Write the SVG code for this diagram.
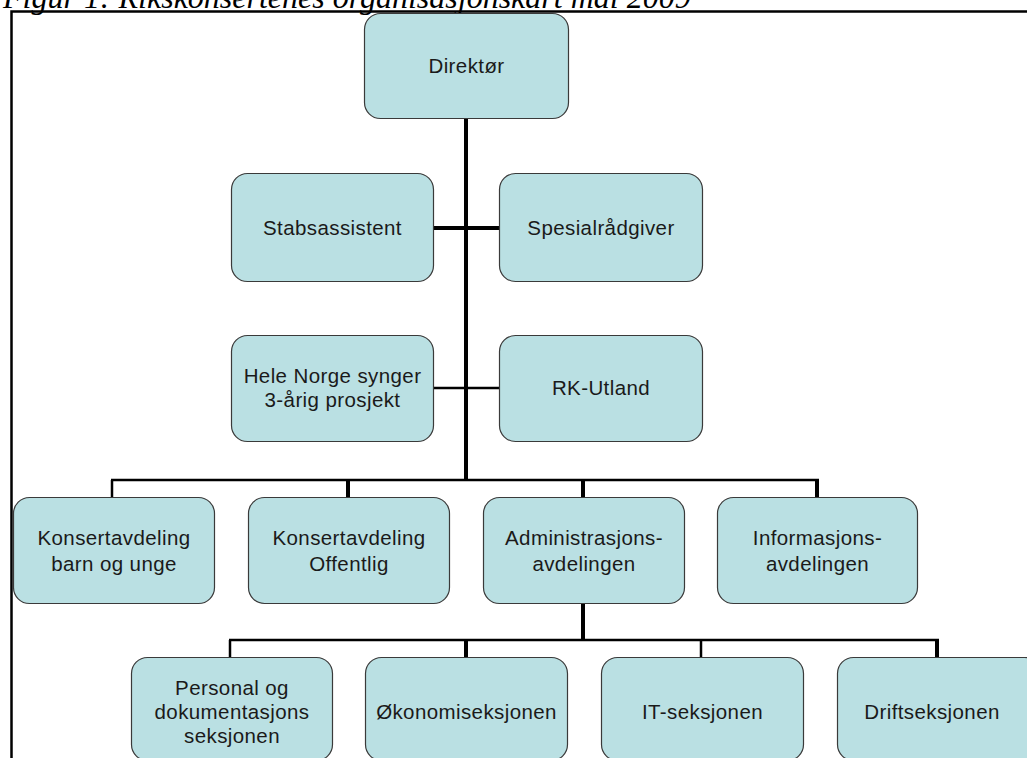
<svg xmlns="http://www.w3.org/2000/svg" width="1027" height="758" viewBox="0 0 1027 758">
<style>
.box{fill:#BAE0E3;stroke:#3a3a3a;stroke-width:1.2}
.t{font-family:"Liberation Sans",Arial,sans-serif;font-size:20.5px;letter-spacing:0.4px;fill:#1a1a1a;text-anchor:middle}
.thick{stroke:#000;stroke-width:4;fill:none}
.thin{stroke:#000;stroke-width:2.5;fill:none}
.title{font-family:"Liberation Serif","Times New Roman",serif;font-style:italic;font-size:32px;fill:#000}
</style>
<rect x="0" y="0" width="1027" height="758" fill="#fff"/>
<text class="title" x="3" y="8">Figur 1: Rikskonsertenes organisasjonskart mai 2009</text>
<path d="M11.5 758 V11.5 H1027" stroke="#000" stroke-width="2.5" fill="none"/>
<g id="connectors">
<line class="thick" x1="466" y1="118" x2="466" y2="481"/>
<line class="thick" x1="433" y1="228" x2="499" y2="228"/>
<line class="thin" x1="433" y1="388" x2="499" y2="388"/>
<line class="thin" x1="111" y1="480" x2="819" y2="480"/>
<line class="thin" x1="112" y1="480" x2="112" y2="497"/>
<line class="thick" x1="348" y1="480" x2="348" y2="497"/>
<line class="thick" x1="583" y1="480" x2="583" y2="497"/>
<line class="thick" x1="817" y1="480" x2="817" y2="497"/>
<line class="thick" x1="583" y1="603" x2="583" y2="641"/>
<line class="thin" x1="229" y1="640" x2="939" y2="640"/>
<line class="thin" x1="230" y1="640" x2="230" y2="657"/>
<line class="thick" x1="466" y1="640" x2="466" y2="657"/>
<line class="thin" x1="701" y1="640" x2="701" y2="657"/>
<line class="thick" x1="937" y1="640" x2="937" y2="657"/>
</g>
<g id="n-direktor"><rect class="box" x="364.5" y="13.5" width="204" height="105" rx="16"/><text class="t" x="466.5" y="73">Direktør</text></g>
<g id="n-stab"><rect class="box" x="231.5" y="173.5" width="202" height="108" rx="16"/><text class="t" x="332.5" y="235">Stabsassistent</text></g>
<g id="n-spes"><rect class="box" x="499.5" y="173.5" width="203" height="108" rx="16"/><text class="t" x="601" y="235">Spesialrådgiver</text></g>
<g id="n-hele"><rect class="box" x="231.5" y="335.5" width="202" height="106" rx="16"/><text class="t" x="332.5" y="383">Hele Norge synger</text><text class="t" x="332.5" y="407">3-årig prosjekt</text></g>
<g id="n-rk"><rect class="box" x="499.5" y="335.5" width="203" height="106" rx="16"/><text class="t" x="601" y="395">RK-Utland</text></g>
<g id="n-barn"><rect class="box" x="13.5" y="497.5" width="201" height="106" rx="16"/><text class="t" x="114" y="545">Konsertavdeling</text><text class="t" x="114" y="571">barn og unge</text></g>
<g id="n-off"><rect class="box" x="248.5" y="497.5" width="201" height="106" rx="16"/><text class="t" x="349" y="545">Konsertavdeling</text><text class="t" x="349" y="571">Offentlig</text></g>
<g id="n-admin"><rect class="box" x="483.5" y="497.5" width="201" height="106" rx="16"/><text class="t" x="584" y="545">Administrasjons-</text><text class="t" x="584" y="571">avdelingen</text></g>
<g id="n-info"><rect class="box" x="717.5" y="497.5" width="200" height="106" rx="16"/><text class="t" x="817.5" y="545">Informasjons-</text><text class="t" x="817.5" y="571">avdelingen</text></g>
<g id="n-personal"><rect class="box" x="131.5" y="657.5" width="201" height="103" rx="16"/><text class="t" x="232" y="695">Personal og</text><text class="t" x="232" y="719">dokumentasjons</text><text class="t" x="232" y="743">seksjonen</text></g>
<g id="n-okonomi"><rect class="box" x="365.5" y="657.5" width="202" height="103" rx="16"/><text class="t" x="466.5" y="719">Økonomiseksjonen</text></g>
<g id="n-it"><rect class="box" x="601.5" y="657.5" width="202" height="103" rx="16"/><text class="t" x="702.5" y="719">IT-seksjonen</text></g>
<g id="n-drift"><rect class="box" x="837.5" y="657.5" width="203" height="103" rx="16"/><text class="t" x="932" y="719">Driftseksjonen</text></g>
</svg>
